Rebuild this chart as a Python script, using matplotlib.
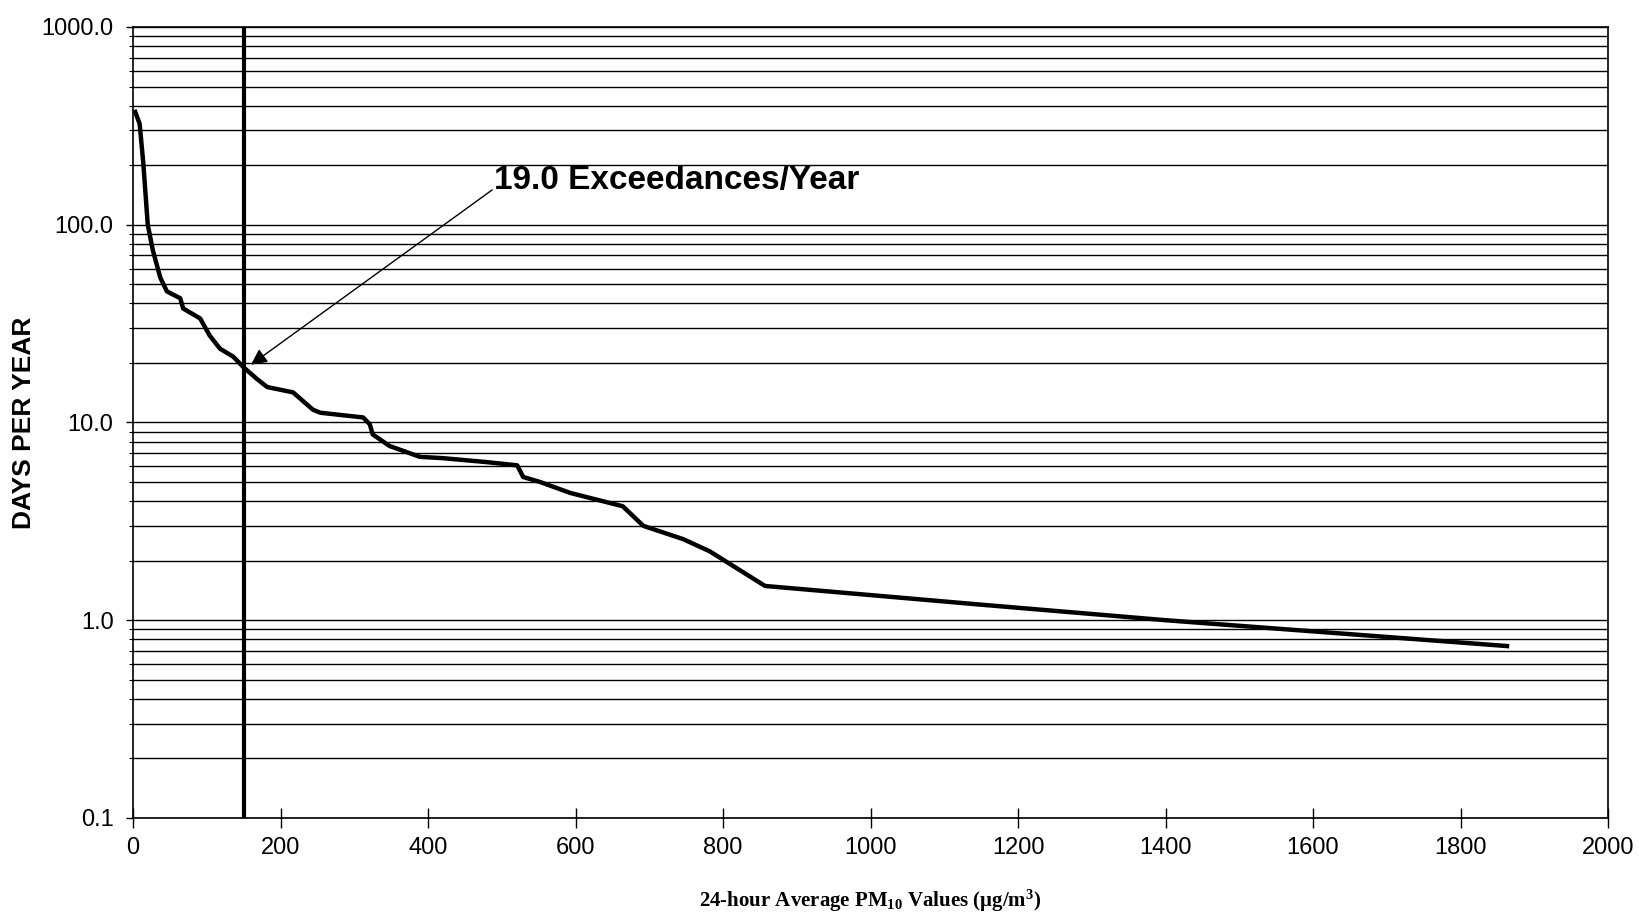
import numpy as np
import matplotlib
matplotlib.use('Agg')
import matplotlib.pyplot as plt
from matplotlib.ticker import FixedLocator, LogLocator, FuncFormatter, NullFormatter

plt.rcParams['font.family'] = ['Liberation Sans', 'DejaVu Sans']
plt.rcParams['mathtext.fontset'] = 'custom'
plt.rcParams['mathtext.rm'] = 'Liberation Serif:bold'
plt.rcParams['mathtext.bf'] = 'Liberation Serif:bold'
plt.rcParams['mathtext.it'] = 'Liberation Serif:bold'

# --- datos ---
pm10 = [3, 9, 14, 20, 27, 37, 46, 64, 68, 91, 104, 118, 136, 150, 168, 182,
        217, 244, 254, 312, 321, 325, 348, 389, 420, 480, 521, 529, 552, 593,
        664, 692, 746, 782, 857, 1148, 1400, 1863]
days = [372, 324, 204, 100, 74, 54, 46, 42.5, 37.7, 33.6, 27.5, 23.6, 21.5,
        19.0, 16.6, 15.1, 14.2, 11.6, 11.2, 10.6, 9.8, 8.7, 7.6, 6.7, 6.6, 6.3,
        6.07, 5.3, 5.0, 4.4, 3.77, 3.0, 2.57, 2.23, 1.49, 1.2, 1.0, 0.74]

standard = 150
exceed = 19.0
x_ticks = list(range(0, 2001, 200))
y_ticks = [0.1, 1.0, 10.0, 100.0, 1000.0]

fig = plt.figure(figsize=(16.4, 9.18), dpi=100)
ax = fig.add_axes([0.0811, 0.109, 0.8994, 0.8616])

ax.set_yscale('log')
ax.set_xlim(0, 2000)
ax.set_ylim(0.1, 1000)

# rejilla horizontal en cada decada y subdivision
ax.yaxis.set_major_locator(FixedLocator(y_ticks))
ax.yaxis.set_minor_locator(LogLocator(base=10, subs=np.arange(2, 10)))
ax.yaxis.set_major_formatter(FuncFormatter(lambda v, p: f'{v:.1f}'))
ax.yaxis.set_minor_formatter(NullFormatter())
ax.grid(which='both', axis='y', color='black', lw=1.0)
ax.set_axisbelow(True)

ax.set_xticks(x_ticks)
ax.tick_params(axis='x', direction='inout', length=14, width=1, labelsize=17, pad=7)
ax.tick_params(axis='y', which='major', direction='out', length=5, width=1, labelsize=17, pad=9)
ax.tick_params(axis='y', which='minor', direction='out', length=3, width=0.8)
for s in ax.spines.values():
    s.set_color('black')
    s.set_linewidth(1.2)

ax.plot(pm10, days, color='black', lw=3.2, solid_joinstyle='round', zorder=4)
ax.axvline(standard, color='black', lw=3.0, zorder=5)

ax.annotate('', xy=(160, 19.6), xytext=(487, 150),
            arrowprops=dict(arrowstyle='-|>', color='black', lw=1.0, mutation_scale=24,
                            shrinkA=0, shrinkB=0), zorder=6)
ax.text(489, 151, f'{exceed:.1f} Exceedances/Year', fontsize=24, fontweight='bold',
        ha='left', va='baseline', zorder=6)

ax.set_ylabel('DAYS PER YEAR', fontsize=19, fontweight='bold', va='center')
ax.yaxis.set_label_coords(-0.074, 0.5)
ax.set_xlabel(r'24-hour Average PM$_{10}$ Values ($\mu$g/m$^{3}$)', fontsize=15,
              fontweight='bold', family='Liberation Serif', va='center')
ax.xaxis.set_label_coords(0.5, -0.105)

fig.savefig('out.png', dpi=100)
